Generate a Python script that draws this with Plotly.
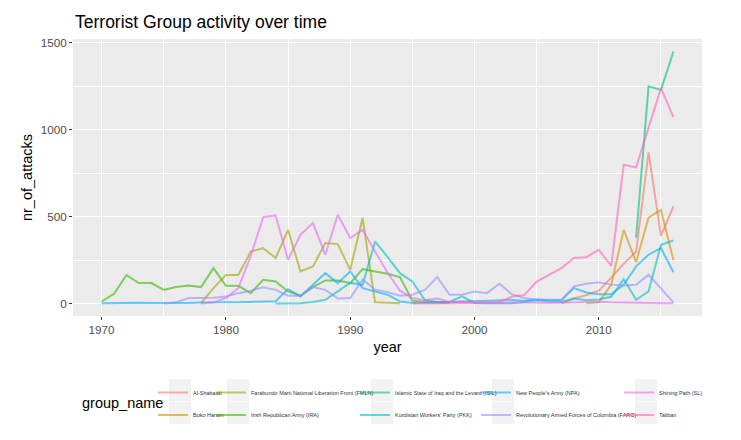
import plotly.graph_objects as go

W, H = 741, 440
L, R, T, B = 73, 39, 39, 124
OFF = 8  # the page body adds an 8px margin around the figure

groups = [
    "Al-Shabaab",
    "Boko Haram",
    "Farabundo Marti National Liberation Front (FMLN)",
    "Irish Republican Army (IRA)",
    "Islamic State of Iraq and the Levant (ISIL)",
    "Kurdistan Workers' Party (PKK)",
    "New People's Army (NPA)",
    "Revolutionary Armed Forces of Colombia (FARC)",
    "Shining Path (SL)",
    "Taliban",
]
colors = ["#F8766D", "#D89000", "#A3A500", "#39B600", "#00BF7D",
          "#00BFC4", "#00B0F6", "#9590FF", "#E76BF3", "#FF62BC"]

shabaab_years = list(range(2007, 2017))
shabaab = [3, 30, 50, 75, 150, 230, 300, 870, 391, 560]

boko_years = list(range(2009, 2017))
boko = [3, 8, 110, 425, 240, 495, 540, 250]

fmln_years = list(range(1978, 1995))
fmln = [3, 90, 165, 165, 300, 320, 263, 425, 186, 215, 349, 343, 195, 493, 8, 4, 3]

ira_years = list(range(1970, 1999))
ira = [13, 57, 165, 119, 119, 80, 96, 105, 96, 205, 103, 103, 61, 138, 128,
       71, 46, 96, 134, 134, 119, 199, 186, 173, 153, 17, 10, 8, 4]

isil_years = list(range(2013, 2017))
isil = [380, 1250, 1230, 1450]

pkk_years = list(range(1984, 2017))
pkk = [2, 3, 3, 10, 23, 71, 120, 109, 358, 270, 176, 128, 21, 10, 12, 42, 5,
       3, 2, 3, 10, 20, 15, 10, 30, 20, 25, 40, 142, 23, 71, 339, 364]

npa_years = list(range(1970, 2017))
npa = [3, 5, 4, 6, 5, 4, 6, 5, 7, 6, 8, 9, 10, 12, 15, 84, 42, 109, 176, 119,
       186, 90, 71, 52, 13, 5, 6, 8, 10, 12, 15, 18, 20, 22, 18, 25, 20, 22,
       90, 65, 55, 55, 109, 215, 282, 320, 181]

farc_years = list(range(1975, 2017))
farc = [2, 8, 33, 33, 35, 42, 61, 75, 95, 80, 46, 46, 96, 80, 30, 33, 140, 80,
        67, 46, 52, 80, 153, 52, 52, 71, 61, 115, 55, 33, 23, 23, 21, 100, 115,
        123, 110, 105, 109, 167, 86, 8]

sl_years = list(range(1978, 2017))
sl = [2, 8, 33, 90, 275, 498, 508, 253, 397, 464, 282, 512, 378, 425, 300, 180,
      75, 33, 20, 30, 10, 12, 8, 6, 5, 8, 6, 7, 5, 6, 8, 10, 12, 8, 9, 6, 5, 4, 3]

taliban_years = list(range(1995, 2017))
taliban = [2, 3, 5, 8, 5, 5, 8, 10, 40, 50, 128, 167, 205, 263, 268, 310, 218,
           799, 784, 1012, 1240, 1073]

series = [
    (shabaab_years, shabaab), (boko_years, boko), (fmln_years, fmln),
    (ira_years, ira), (isil_years, isil), (pkk_years, pkk),
    (npa_years, npa), (farc_years, farc), (sl_years, sl),
    (taliban_years, taliban),
]

x_ticks = [1970, 1980, 1990, 2000, 2010]
y_ticks = [0, 500, 1000, 1500]

FW, FH = W - OFF, H - OFF
pw, ph = W - L - R, H - T - B


def px_x(x):
    return (x - L) / pw


def px_y(y):
    return (H - B - y) / ph


font = "Liberation Sans, Arial, sans-serif"
fig = go.Figure()

legend_names = ["legend", "legend2", "legend3", "legend4", "legend5"]
for i, ((xs, ys), name, col) in enumerate(zip(series, groups, colors)):
    fig.add_scatter(
        x=xs, y=ys, name=name, mode="lines",
        line=dict(color=col, width=2), opacity=0.6,
        legend=legend_names[i // 2], legendgroup=name,
    )

# legend columns (ggplot fills by column, two rows)
key_left = [169, 227, 371, 492, 635]
key_w, key_h, key_top = 22, 22.7, 379
legends = {}
for c, lg in enumerate(legend_names):
    legends[lg] = dict(
        x=px_x(key_left[c] - 16), y=px_y(key_top - 1),
        xanchor="left", yanchor="top", orientation="v",
        bgcolor="rgba(0,0,0,0)", tracegroupgap=3.5,
        font=dict(family=font, size=5.5, color="#333333"),
    )
    for r in range(2):
        fig.add_shape(
            type="rect", xref="paper", yref="paper",
            x0=px_x(key_left[c]), x1=px_x(key_left[c] + key_w),
            y0=px_y(key_top + r * key_h), y1=px_y(key_top + (r + 1) * key_h - 0.6),
            fillcolor="#F2F2F2", line=dict(width=0), layer="below",
        )

all_y = [v for _, ys in series for v in ys]
all_x = [v for xs, _ in series for v in xs]
ypad = 0.05 * (max(all_y) - min(all_y))
xpad = 0.05 * (max(all_x) - min(all_x))

fig.update_layout(
    template="none",
    width=FW, height=FH,
    margin=dict(l=L - OFF, r=R, t=T - OFF, b=B, autoexpand=False),
    paper_bgcolor="white", plot_bgcolor="#EBEBEB",
    font=dict(family=font),
    title=dict(
        text="Terrorist Group activity over time",
        x=(75 - OFF) / FW, xref="container", xanchor="left",
        y=1 - (22 - OFF) / FH, yref="container", yanchor="middle",
        font=dict(size=17.5, color="black"),
    ),
    annotations=[dict(
        text="group_name", xref="paper", yref="paper",
        x=px_x(80), y=px_y(403), xanchor="left", yanchor="middle",
        showarrow=False, font=dict(size=14.5, color="black"),
    )],
    **legends,
)

axis_common = dict(
    showgrid=True, gridcolor="white", gridwidth=1.1,
    zeroline=False, showline=False, automargin=False,
    ticks="outside", ticklen=3, tickwidth=1, tickcolor="#333333",
    tickfont=dict(size=11.7, color="#4D4D4D"),
)
fig.update_xaxes(
    range=[min(all_x) - xpad, max(all_x) + xpad],
    tickvals=x_ticks,
    minor=dict(dtick=5, tick0=1965, showgrid=True, gridcolor="white",
               gridwidth=0.5, ticks=""),
    title=dict(text="year", font=dict(size=14.5, color="black"), standoff=6),
    **axis_common,
)
fig.update_yaxes(
    range=[min(all_y) - ypad, max(all_y) + ypad],
    tickvals=y_ticks,
    minor=dict(dtick=250, tick0=0, showgrid=True, gridcolor="white",
               gridwidth=0.5, ticks=""),
    title=dict(text="nr_of_attacks", font=dict(size=14.5, color="black"), standoff=4),
    **axis_common,
)

fig.write_html("out.html")
